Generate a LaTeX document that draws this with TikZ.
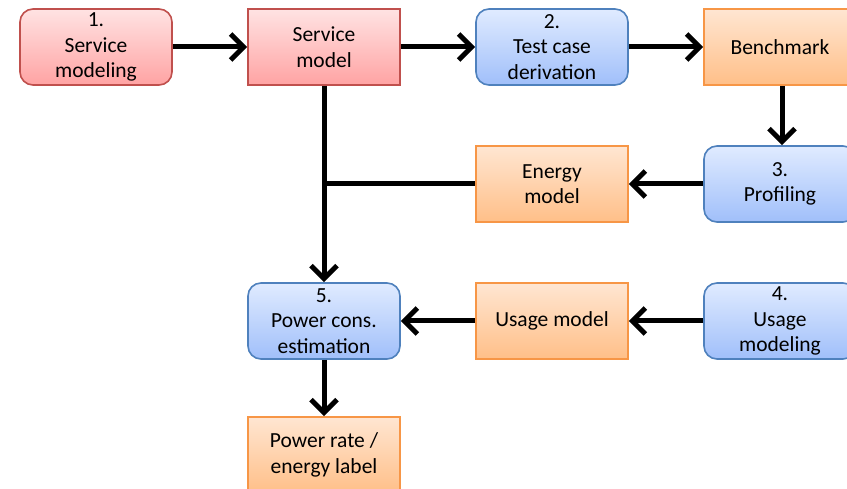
\documentclass[tikz,border=0pt]{standalone}
\usepackage{fontspec}
\setmainfont{Carlito}
\usetikzlibrary{arrows.meta}
\definecolor{redb}{HTML}{C0504D}
\definecolor{redt}{HTML}{FFE3E3}
\definecolor{redd}{HTML}{FFA3A3}
\definecolor{blueb}{HTML}{4F81BD}
\definecolor{bluet}{HTML}{E0EBFF}
\definecolor{blued}{HTML}{A0BFFA}
\definecolor{orb}{HTML}{F79646}
\definecolor{ort}{HTML}{FFE6D2}
\definecolor{ord}{HTML}{FFBF88}
\tikzset{
  box/.style={minimum width=152pt, minimum height=76pt, inner sep=0pt, align=center,
    font=\fontsize{21.5}{25.5}\selectfont, line width=1.6pt},
  redproc/.style={box, rounded corners=13pt, draw=redb, top color=redt, bottom color=redd},
  redart/.style={box, draw=redb, top color=redt, bottom color=redd},
  blueproc/.style={box, rounded corners=13pt, draw=blueb, top color=bluet, bottom color=blued},
  orart/.style={box, draw=orb, top color=ort, bottom color=ord},
  conn/.style={line width=5pt, black},
  arr/.style={conn, -{Straight Barb[length=13pt, width=26pt, line width=5pt]}}
}
\begin{document}
\begin{tikzpicture}[x=1pt, y=-1pt]
\useasboundingbox (0,0) rectangle (847,489);
\clip (0,0) rectangle (847,489);
\fill[white] (0,0) rectangle (847,489);
\node[redproc] (sm) at (96,47) {1.\\Service\\modeling};
\node[redart] (smod) at (324,47) {Service\\model};
\node[blueproc] (tcd) at (552,47) {2.\\Test case\\derivation};
\node[orart] (bench) at (780,47) {Benchmark};
\node[orart] (emod) at (552,184) {Energy\\model};
\node[blueproc] (prof) at (780,184) {3.\\Profiling};
\node[blueproc] (pce) at (324,321) {5.\\Power cons.\\estimation};
\node[orart] (umod) at (552,321) {Usage model};
\node[blueproc] (uml) at (780,321) {4.\\Usage\\modeling};
\node[orart] (prate) at (324,455) {Power rate /\\energy label};
\coordinate (junc) at (324,184);
\draw[arr] (sm) -- (smod);
\draw[arr] (smod) -- (tcd);
\draw[arr] (tcd) -- (bench);
\draw[arr] (bench.south -| 782,0) -- (prof.north -| 782,0);
\draw[arr] (prof) -- (emod);
\draw[conn] (emod.west) -- (junc);
\draw[arr] (smod) -- (pce);
\draw[arr] (uml) -- (umod);
\draw[arr] (umod) -- (pce);
\draw[arr] (pce) -- (prate);
\end{tikzpicture}
\end{document}
